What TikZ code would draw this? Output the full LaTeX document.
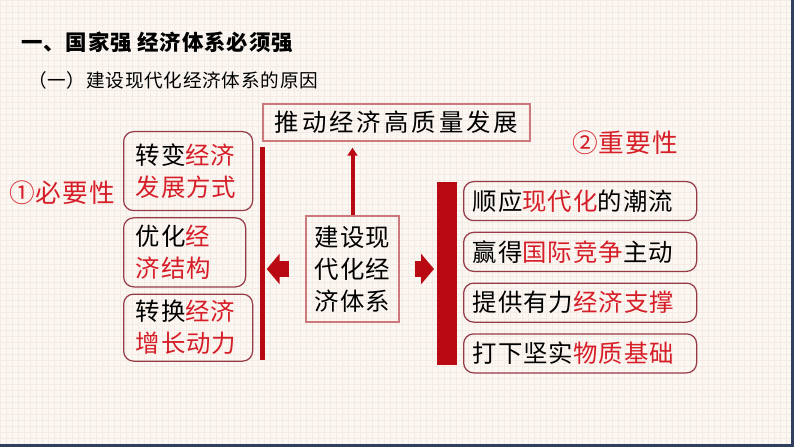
\documentclass[tikz,border=0pt]{standalone}
\usepackage{fontspec}
\usepackage{xcolor}
\usetikzlibrary{arrows.meta, positioning, calc}
\newfontfamily\cjk{Noto Sans CJK SC}[LetterSpace=4]
\newfontfamily\cjkwide{Noto Sans CJK SC}[LetterSpace=12]
\definecolor{eRed}{RGB}{214,30,40}
\definecolor{barRed}{RGB}{185,10,20}
\definecolor{boxMaroon}{RGB}{150,60,72}
\definecolor{frameRed}{RGB}{205,120,125}
\definecolor{paper}{RGB}{251,247,242}
\definecolor{paperGrid}{RGB}{244,234,227}
\definecolor{edgeBlue}{RGB}{46,64,94}
\def\px{0.2mm}
\newcommand{\hl}[1]{\textcolor{eRed}{#1}}

\begin{document}
\begin{tikzpicture}[x=\px, y=-\px,
		body/.style={font=\cjk\fontsize{13.9}{18.2}\selectfont},
		roundbox/.style={body, draw=boxMaroon, line width=0.25mm, rounded corners=2mm,
			align=left, inner xsep=12*\px, inner ysep=0, anchor=north west},
		framebox/.style={body, draw=frameRed, line width=0.3mm, inner sep=0},
		factbox/.style={roundbox, inner xsep=9*\px, text width=215*\px, minimum height=39*\px},
		redbar/.style={fill=barRed, inner sep=0, anchor=north west},
		blockarrow/.style={barRed, line width=16*\px, -{Triangle[length=2.6mm, width=6mm]}},
		uparrow/.style={barRed, line width=0.8mm, -{Triangle[length=1.6mm, width=2mm]}},
		sidelabel/.style={anchor=west, text=eRed, font=\cjk\fontsize{14.6}{16}\selectfont}
	]

	\useasboundingbox (0,0) rectangle (794,447);
	\fill[paper] (0,0) rectangle (794,447);
	\draw[paperGrid, line width=0.25pt, step=1.2mm] (0,0) grid (794,447);
	\fill[edgeBlue] (0,444) rectangle (794,447);
	\fill[edgeBlue] (791,0) rectangle (794,447);

	% headings
	\node[anchor=west, font=\cjk\bfseries\fontsize{12.2}{14}\selectfont] (title) at (15,42) {一、国家强 经济体系必须强};
	\node[anchor=west, font=\cjk\fontsize{10.6}{12}\selectfont] (subtitle) at (22,80) {（一）建设现代化经济体系的原因};

	\node[framebox, font=\cjkwide\fontsize{13.9}{18.2}\selectfont, minimum width=267*\px, minimum height=37*\px] (goal) at (396.5,122.5) {推动经济高质量发展};
	\node[framebox, align=center, minimum width=93*\px, minimum height=106*\px] (core) at (352.5,269) {建设现\\代化经\\济体系};

	\node[sidelabel] (need) at (3,193) {①必要性};
	\node[sidelabel] (value) at (566,143) {②重要性};

	% left side
	\node[roundbox, text width=105*\px, minimum height=79*\px] (way1) at (123,131) {转变\hl{经济}\\\hl{发展方式}};
	\node[roundbox, text width=98*\px, minimum height=69*\px, below=6*\px of way1.south west, anchor=north west] (way2) {优化\hl{经}\\\hl{济结构}};
	\node[roundbox, text width=105*\px, minimum height=67*\px, below=6*\px of way2.south west, anchor=north west] (way3) {转换\hl{经济}\\\hl{增长动力}};
	\node[redbar, minimum width=5*\px, minimum height=213*\px] (lbar) at (260,147) {};

	% right side
	\node[redbar, minimum width=20*\px, minimum height=183*\px] (rbar) at (437,182) {};
	\node[factbox] (fact1) at (463,181) {顺应\hl{现代化}的潮流};
	\node[factbox, below=10.5*\px of fact1.south west, anchor=north west] (fact2) {赢得\hl{国际竞争}主动};
	\node[factbox, below=10.5*\px of fact2.south west, anchor=north west] (fact3) {提供有力\hl{经济支撑}};
	\node[factbox, below=10.5*\px of fact3.south west, anchor=north west] (fact4) {打下坚实\hl{物质基础}};

	% arrows
	\draw[uparrow, shorten >=1.2mm] (core.north) -- (core.north |- goal.south);
	\draw[blockarrow, shorten <=3.2mm, shorten >=0.2mm] (core.west) -- (core.west -| lbar.east);
	\draw[blockarrow, shorten <=3mm, shorten >=0.6mm] (core.east) -- (core.east -| rbar.west);

\end{tikzpicture}
\end{document}
